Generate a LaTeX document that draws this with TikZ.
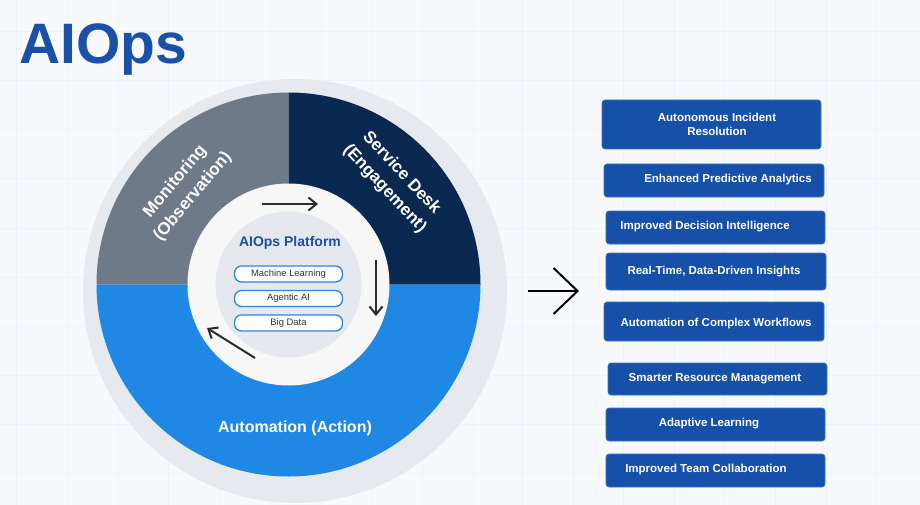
\documentclass[tikz,border=0pt]{standalone}
\usepackage{fontspec}
\setmainfont{Liberation Sans}
\usetikzlibrary{arrows.meta}
\definecolor{bgc}{HTML}{F7F9FD}
\definecolor{gridc}{HTML}{EDF2FB}
\definecolor{ringc}{HTML}{E6E9ED}
\definecolor{grayq}{HTML}{6E7A88}
\definecolor{navyq}{HTML}{0A2951}
\definecolor{blueq}{HTML}{1F88E4}
\definecolor{whitec}{HTML}{F7F7F8}
\definecolor{innerc}{HTML}{E5E8EC}
\definecolor{titlec}{HTML}{1A50A8}
\definecolor{boxc}{HTML}{1650A8}
\definecolor{boxb}{HTML}{3C72C2}
\definecolor{pillb}{HTML}{2A86E0}
\definecolor{arrc}{HTML}{2B2B2B}
\tikzset{
  box/.style={draw=boxb, line width=0.6pt, fill=boxc, rounded corners=3pt, minimum width=219pt, inner sep=0pt},
  boxtext/.style={text=white, font=\fontsize{11.5}{14}\selectfont\bfseries, align=center, inner sep=0pt},
  pill/.style={draw=pillb, line width=1.3pt, fill=white, rounded corners=7pt, minimum width=108pt, minimum height=16pt, inner sep=0pt, font=\fontsize{9.4}{11}\selectfont, text=black!80},
  seglabel/.style={text=white, font=\fontsize{17}{20}\selectfont\bfseries, align=center, inner sep=0pt},
  cyc/.style={draw=arrc, line width=2pt, -{Straight Barb[length=8pt,width=13pt]}},
}
\begin{document}
\begin{tikzpicture}[x=1pt,y=1pt]
\useasboundingbox (0,0) rectangle (920,-505);
\fill[bgc] (0,0) rectangle (920,-505);
% faint grid
\foreach \gx in {16.8,67.5,118.2,168.9,219.6,270.3,321,371.7,422.4,473.1,522,573,623,674,724,775,826,876}
  \draw[gridc, line width=1pt] (\gx,0) -- (\gx,-505);
\foreach \gy in {32,81,130,179,228,277,326,375,424,473}
  \draw[gridc, line width=1pt] (0,-\gy) -- (920,-\gy);
% title
\node[anchor=base west, inner sep=0pt, text=titlec, font=\fontsize{57}{60}\selectfont\bfseries] (title) at (19,-64) {AIOps};
% wheel
\coordinate (C) at (288.5,-284.5);
\fill[ringc] (295,-291) circle (212);
\fill[grayq] (C) -- ++(180:192) arc (180:90:192) -- cycle;
\fill[navyq] (C) -- ++(90:192) arc (90:0:192) -- cycle;
\fill[blueq] (C) -- ++(0:192) arc (0:-180:192) -- cycle;
\fill[whitec] (C) circle (101);
\fill[innerc] (C) circle (73);
\node[seglabel, rotate=50] (mon) at (184,-189) {Monitoring\\[3pt](Observation)};
\node[seglabel, rotate=-47] (sd) at (393,-181) {Service Desk\\[3pt](Engagement)};
\node[seglabel, font=\fontsize{16}{19}\selectfont\bfseries] (auto) at (295,-428) {Automation (Action)};
\node[text=titlec, font=\fontsize{14}{16}\selectfont\bfseries, inner sep=0pt] (plat) at (290,-243) {AIOps Platform};
\node[pill] (ml) at (288.5,-274) {Machine Learning};
\node[pill] (ag) at (288.5,-298.5) {Agentic AI};
\node[pill] (bd) at (288.5,-323) {Big Data};
% cycle arrows
\coordinate (a1s) at (262,-204); \coordinate (a1e) at (318,-204);
\coordinate (a2s) at (376,-260); \coordinate (a2e) at (376,-316);
\coordinate (a3s) at (255,-358); \coordinate (a3e) at (207,-328);
\draw[cyc] (a1s) -- (a1e);
\draw[cyc] (a2s) -- (a2e);
\draw[cyc] (a3s) -- (a3e);
% big arrow
\coordinate (bs) at (528,-291); \coordinate (be) at (579,-291);
\draw[black, line width=2pt, -{Straight Barb[length=24pt,width=46pt,line width=2pt]}] (bs) -- (be);
% boxes
\node[box, minimum height=49pt] (b1) at (711.5,-124.5) {};
\node[boxtext] at (717,-124.5) {Autonomous Incident\\Resolution};
\node[box, minimum height=33pt, minimum width=220pt] (b2) at (714,-180.5) {};
\node[boxtext] at (728,-180) {Enhanced Predictive Analytics};
\node[box, minimum height=33pt] (b3) at (715.5,-227.5) {};
\node[boxtext] at (705,-227) {Improved Decision Intelligence};
\node[box, minimum height=37pt, minimum width=220pt] (b4) at (716,-271.5) {};
\node[boxtext] at (714,-271.5) {Real-Time, Data-Driven Insights};
\node[box, minimum height=39pt, minimum width=220pt] (b5) at (714,-321.5) {};
\node[boxtext] at (716,-324) {Automation of Complex Workflows};
\node[box, minimum height=32pt] (b6) at (717.5,-379) {};
\node[boxtext] at (715,-378.5) {Smarter Resource Management};
\node[box, minimum height=33pt] (b7) at (715.5,-424.5) {};
\node[boxtext] at (709,-423.5) {Adaptive Learning};
\node[box, minimum height=33pt] (b8) at (715.5,-470.5) {};
\node[boxtext] at (706,-470) {Improved Team Collaboration};
\end{tikzpicture}
\end{document}
